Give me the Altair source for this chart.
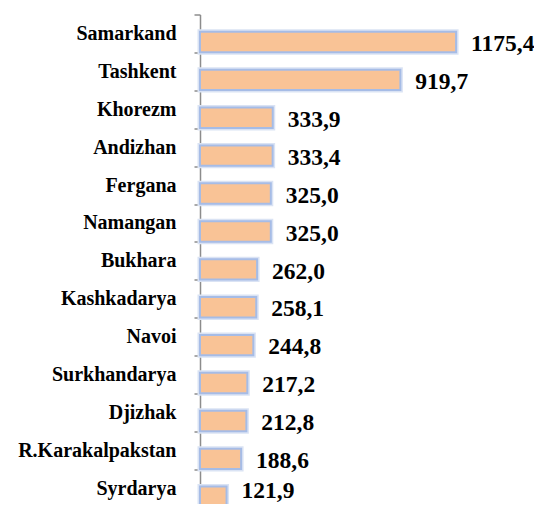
import altair as alt
import pandas as pd

regions = ["Samarkand", "Tashkent", "Khorezm", "Andizhan", "Fergana", "Namangan",
           "Bukhara", "Kashkadarya", "Navoi", "Surkhandarya", "Djizhak",
           "R.Karakalpakstan", "Syrdarya"]
values = [1175.4, 919.7, 333.9, 333.4, 325.0, 325.0, 262.0, 258.1, 244.8,
          217.2, 212.8, 188.6, 121.9]

df = pd.DataFrame({
    "region": regions,
    "value": values,
    "label": [f"{v:.1f}".replace(".", ",") for v in values],
})

FONT = "'Liberation Serif', 'Times New Roman', Times, 'DejaVu Serif', serif"
LAST = regions[-1]

y_enc = alt.Y(
    "region:N",
    sort=regions,
    scale=alt.Scale(paddingInner=0, paddingOuter=0),
    axis=alt.Axis(
        title=None,
        tickBand="extent",
        tickSize=6,
        tickWidth=1.5,
        tickColor="#8c8c8c",
        domainColor="#8c8c8c",
        domainWidth=1.5,
        labelFont=FONT,
        labelFontWeight="bold",
        labelFontSize=20,
        labelColor="#000000",
        labelPadding=18,
        labelLimit=400,
    ),
)
x_enc = alt.X("value:Q", scale=alt.Scale(domain=[0, 1400]), axis=None)
y_plain = alt.Y("region:N", sort=regions)

glow = alt.Chart(df).mark_bar(
    height=20.4, yOffset=8.5, fill="#f9c396", stroke="#dae3f4", strokeWidth=5
).encode(x=x_enc, y=y_enc)

bars = alt.Chart(df).mark_bar(
    height=20.4, yOffset=8.5, fill="#f9c396", stroke="#a6bce6", strokeWidth=2
).encode(x=x_enc, y=y_enc)

text_main = alt.Chart(df).transform_filter(
    alt.datum.region != LAST
).mark_text(
    align="left", baseline="alphabetic", dx=15, dy=17.7,
    font=FONT, fontWeight="bold", fontSize=23.5, color="#000000"
).encode(x=x_enc, y=y_plain, text="label:N")

text_last = alt.Chart(df).transform_filter(
    alt.datum.region == LAST
).mark_text(
    align="left", baseline="alphabetic", dx=15, dy=10,
    font=FONT, fontWeight="bold", fontSize=23.5, color="#000000"
).encode(x=x_enc, y=y_plain, text="label:N")

chart = (
    alt.layer(glow, bars, text_main, text_last)
    .properties(
        width=305,
        height=492.7,
        autosize=alt.AutoSizeParams(type="none"),
        padding={"left": 192, "top": 6.5, "right": 29, "bottom": -3.2},
        background="#ffffff",
    )
    .configure_view(stroke=None)
)

chart.save("out.html", embed_options={"renderer": "svg", "actions": False})
